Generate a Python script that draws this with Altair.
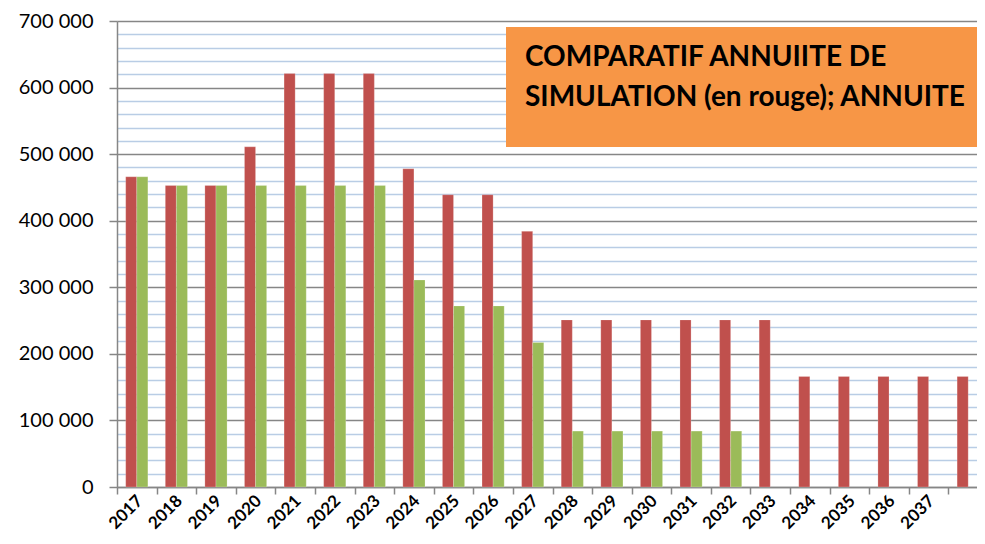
import altair as alt
import pandas as pd

# ---- data ----
YEARS = ["2017", "2018", "2019", "2020", "2021", "2022", "2023", "2024", "2025", "2026",
         "2027", "2028", "2029", "2030", "2031", "2032", "2033", "2034", "2035", "2036",
         "2037", " "]
SIMULATION = [466000, 453000, 453000, 511000, 621000, 621000, 621000, 478000, 439000, 439000,
              384000, 251000, 251000, 251000, 251000, 251000, 251000, 166000, 166000, 166000,
              166000, 166000]
ANNUITE = [466000, 453000, 453000, 453000, 453000, 453000, 453000, 311000, 272000, 272000,
           217000, 84000, 84000, 84000, 84000, 84000]
Y_TICKS = list(range(0, 700001, 20000))
TITLE_LINES = "COMPARATIF ANNUIITE DE\nSIMULATION (en rouge); ANNUITE"

rows = []
for i, y in enumerate(YEARS):
    rows.append({"annee": y, "serie": "simulation", "valeur": SIMULATION[i]})
    if i < len(ANNUITE):
        rows.append({"annee": y, "serie": "annuite", "valeur": ANNUITE[i]})
df = pd.DataFrame(rows)

RED = "#C0504D"
GREEN = "#9BBB59"
GRAY = "#868686"
BLUE = "#B9CDE5"
FONT = "Lato"

major = "datum.value % 100000 === 0"

bars = alt.Chart(df).mark_bar(stroke="#ffffff", strokeOpacity=0.35, strokeWidth=0.6).encode(
    x=alt.X("annee:N", sort=YEARS,
            scale=alt.Scale(domain=YEARS, range=[0, 871], paddingInner=0.44, paddingOuter=0.22),
            axis=alt.Axis(title=None, bandPosition=0, tickOffset=-8.7, labelOffset=11.5,
                          labelAngle=-45, labelAlign="right", labelBaseline="middle",
                          labelFont=FONT, labelFontWeight="bold", labelFontSize=17,
                          labelColor="#000000", domainColor=GRAY, domainWidth=1.5,
                          tickColor=GRAY, tickWidth=1.5, tickSize=7, labelPadding=4)),
    xOffset=alt.XOffset("serie:N", sort=["simulation", "annuite"],
                        scale=alt.Scale(domain=["simulation", "annuite"], paddingInner=0, paddingOuter=0)),
    y=alt.Y("valeur:Q", scale=alt.Scale(domain=[0, 700000], nice=False),
            axis=alt.Axis(title=None, values=Y_TICKS, grid=True,
                          gridColor={"condition": {"test": major, "value": GRAY}, "value": BLUE},
                          gridWidth={"condition": {"test": major, "value": 1.3}, "value": 1.5},
                          tickOpacity={"condition": {"test": major, "value": 1}, "value": 0},
                          tickColor=GRAY, tickWidth=1.5, tickSize=8,
                          domainColor=GRAY, domainWidth=1.5,
                          labelExpr="datum.value % 100000 === 0 ? (datum.value === 0 ? '0' : format(datum.value/1000, 'd') + ' 000') : ''",
                          labelFont=FONT, labelFontSize=20, labelColor="#000000", labelPadding=16)),
    color=alt.Color("serie:N", scale=alt.Scale(domain=["simulation", "annuite"], range=[RED, GREEN]),
                    legend=None),
)

box_df = pd.DataFrame({"t": [TITLE_LINES]})
box = alt.Chart(box_df).mark_rect(color="#F79646").encode(
    x=alt.value(389), x2=alt.value(880), y=alt.value(6), y2=alt.value(126)
)
title_text = alt.Chart(box_df).mark_text(
    align="left", baseline="alphabetic", font=FONT, fontWeight="bold", fontSize=28,
    lineBreak="\n", lineHeight=40, color="#000000"
).encode(text="t:N", x=alt.value(408), y=alt.value(45))

chart = alt.layer(bars, box, title_text).properties(
    width=860, height=466,
    autosize=alt.AutoSizeParams(type="none"),
    padding={"left": 109, "top": 13, "right": 0, "bottom": 49},
).configure_view(stroke=None)

chart.save("out.html", embed_options={"renderer": "svg", "actions": False})
